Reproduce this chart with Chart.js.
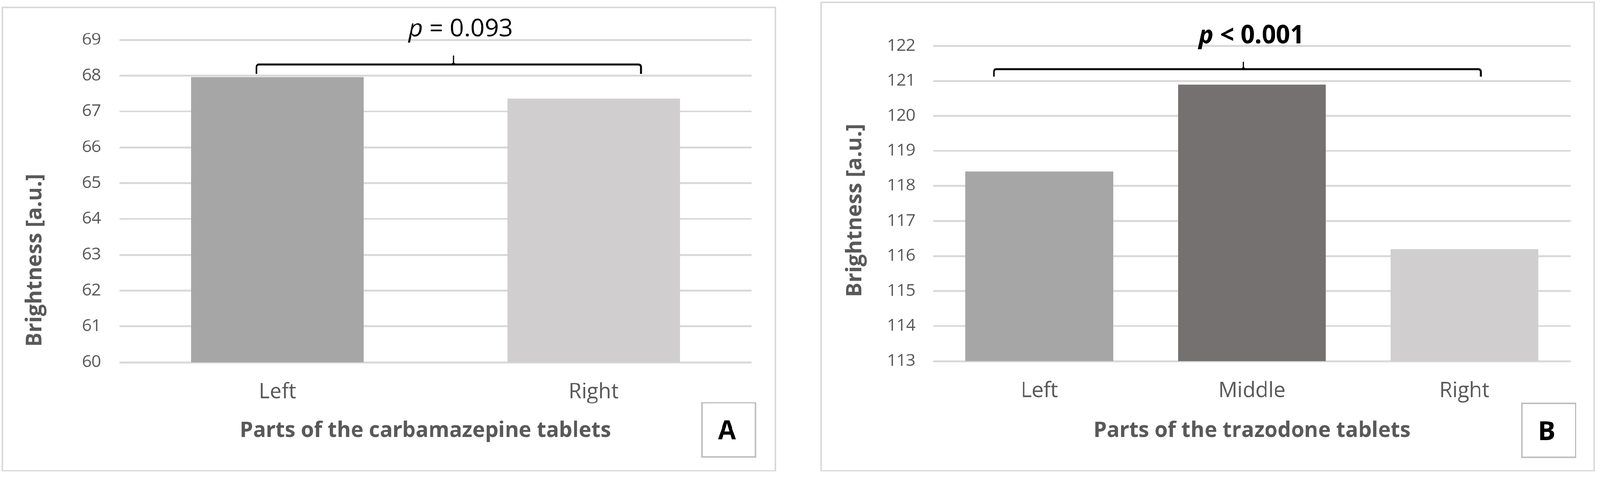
<!DOCTYPE html>
<html>
<head>
<meta charset="utf-8">
<script src="https://cdn.jsdelivr.net/npm/chart.js@4.4.1/dist/chart.umd.min.js"></script>
<style>
  html, body { margin: 0; padding: 0; background: #ffffff; overflow: hidden; }
  #stage { width: 4261px; height: 1269px; position: absolute; left: 0; top: 0; transform-origin: 0 0; }
  canvas { position: absolute; top: 0; }
  #cA { left: 0px; }
  #cB { left: 2130px; }
</style>
</head>
<body>
<div id="stage">
<canvas id="cA" width="2130" height="1269"></canvas>
<canvas id="cB" width="2131" height="1269"></canvas>
</div>
<script>
// ---------------- data ----------------
const categoriesA = ['Left', 'Right'];
const valuesA = [67.96, 67.36];
const colorsA = ['#A6A6A6', '#D0CECE'];
const yMinA = 60, yMaxA = 69, yStepA = 1;

const categoriesB = ['Left', 'Middle', 'Right'];
const valuesB = [118.41, 120.89, 116.19];
const colorsB = ['#A6A6A6', '#767171', '#D0CECE'];
const yMinB = 113, yMaxB = 122, yStepB = 1;

const yTitle = 'Brightness [a.u.]';
const xTitleA = 'Parts of the carbamazepine tablets';
const xTitleB = 'Parts of the trazodone tablets';
const pTextA = ['p', ' = 0.093'];
const pTextB = ['p', ' < 0.001'];
const panelLetterA = 'A';
const panelLetterB = 'B';
// bracket spans in (category index, value) space
const bracketA = { x0: -0.0665, x1: 1.1496, xc: 0.557, yLine: 68.308, yEnd: 68.045, yTip: 68.56 };
const bracketB = { x0: -0.2138, x1: 2.0777, xc: 0.9594, yLine: 121.335, yEnd: 121.12, yTip: 121.55 };

const FONT = "'Open Sans', 'DejaVu Sans', sans-serif";
const GREY = '#595959';

// fit the 4261x1269 design into the real viewport
(function fitStage() {
  const W = 4261, H = 1269;
  const s = Math.min(window.innerWidth / W, window.innerHeight / H) || 1;
  if (Math.abs(s - 1) > 0.002) {
    document.getElementById('stage').style.transform = 'scale(' + s + ')';
  }
})();

function drawBracket(ctx, chart, b) {
  const xs = chart.scales.x, ys = chart.scales.y;
  const xL = xs.getPixelForValue(b.x0), xR = xs.getPixelForValue(b.x1), xC = xs.getPixelForValue(b.xc);
  const y = ys.getPixelForValue(b.yLine), yE = ys.getPixelForValue(b.yEnd), yT = ys.getPixelForValue(b.yTip);
  const r = 7;
  ctx.save();
  ctx.strokeStyle = '#000000';
  ctx.lineCap = 'butt';
  ctx.lineJoin = 'round';
  ctx.lineWidth = 5;
  ctx.beginPath();
  ctx.moveTo(xL, yE);
  ctx.lineTo(xL, y + r);
  ctx.quadraticCurveTo(xL, y, xL + r, y);
  ctx.lineTo(xR - r, y);
  ctx.quadraticCurveTo(xR, y, xR, y + r);
  ctx.lineTo(xR, yE);
  ctx.stroke();
  ctx.lineWidth = 3;
  ctx.beginPath();
  ctx.moveTo(xC - 8, y);
  ctx.quadraticCurveTo(xC, y, xC, y - 8);
  ctx.lineTo(xC, yT);
  ctx.moveTo(xC + 8, y);
  ctx.quadraticCurveTo(xC, y, xC, y - 8);
  ctx.stroke();
  ctx.restore();
}

function drawPText(ctx, parts, cx, baseline, bold) {
  ctx.save();
  const w = bold ? 'bold ' : '';
  const f1 = 'italic ' + w + '66px ' + FONT;
  const f2 = w + '66px ' + FONT;
  ctx.font = f1; const w1 = ctx.measureText(parts[0]).width;
  ctx.font = f2; const w2 = ctx.measureText(parts[1]).width;
  let x = cx - (w1 + w2) / 2;
  ctx.fillStyle = '#000000';
  ctx.textAlign = 'left';
  ctx.textBaseline = 'alphabetic';
  ctx.font = f1; ctx.fillText(parts[0], x, baseline);
  ctx.font = f2; ctx.fillText(parts[1], x + w1, baseline);
  ctx.restore();
}

function makeDecor(o) {
  return {
    id: 'decor' + o.letter,
    afterDraw(chart) {
      const ctx = chart.ctx;
      ctx.save();
      ctx.strokeStyle = '#D9D9D9';
      ctx.lineWidth = 4;
      ctx.strokeRect(o.border[0], o.border[1], o.border[2], o.border[3]);
      ctx.fillStyle = GREY;
      ctx.font = 'bold 57px ' + FONT;
      ctx.textAlign = 'center';
      ctx.textBaseline = 'alphabetic';
      ctx.save();
      ctx.translate(o.yTitle[0], o.yTitle[1]);
      ctx.rotate(-Math.PI / 2);
      ctx.fillText(yTitle, 0, 0);
      ctx.restore();
      ctx.font = 'bold 56.5px ' + FONT;
      ctx.fillText(o.xTitle, o.xTitlePos[0], o.xTitlePos[1]);
      ctx.strokeStyle = '#BFBFBF';
      ctx.lineWidth = 4;
      ctx.strokeRect(o.box[0], o.box[1], o.box[2], o.box[3]);
      ctx.fillStyle = '#000000';
      ctx.font = 'bold 69px ' + FONT;
      ctx.fillText(o.letter, o.letterPos[0], o.letterPos[1]);
      ctx.restore();
      drawBracket(ctx, chart, o.bracket);
      drawPText(ctx, o.pText, o.pPos[0], o.pPos[1], o.pBold);
    }
  };
}

function makeChart(id, cats, vals, cols, yMin, yMax, yStep, o) {
  return new Chart(document.getElementById(id), {
    type: 'bar',
    data: {
      labels: cats,
      datasets: [{
        data: vals,
        backgroundColor: cols,
        borderWidth: 0,
        categoryPercentage: 1.0,
        barPercentage: o.barPct
      }]
    },
    options: {
      responsive: false,
      animation: false,
      devicePixelRatio: 1,
      layout: { padding: o.padding },
      plugins: { legend: { display: false }, tooltip: { enabled: false }, title: { display: false } },
      scales: {
        x: {
          grid: { display: false, drawTicks: false },
          border: { display: false },
          ticks: { color: GREY, font: { family: FONT, size: 56 }, padding: 46, maxRotation: 0, autoSkip: false },
          afterFit: s => { s.height = 150; }
        },
        y: {
          min: yMin, max: yMax,
          grid: { color: '#D9D9D9', lineWidth: 5, drawTicks: false },
          border: { display: false },
          ticks: { stepSize: yStep, color: GREY, font: { family: FONT, size: 44 }, padding: o.tickPad },
          afterFit: s => { s.width = o.yWidth; }
        }
      }
    },
    plugins: [makeDecor(o)]
  });
}

function build() {
  makeChart('cA', categoriesA, valuesA, colorsA, yMinA, yMaxA, yStepA, {
    letter: panelLetterA,
    barPct: 0.546,
    padding: { left: 0, top: 106, right: 128, bottom: 155 },
    yWidth: 318, tickPad: 49,
    border: [6, 20, 2059, 1233],
    yTitle: [110, 693],
    xTitle: xTitleA, xTitlePos: [1133, 1163],
    box: [1869, 1072, 143, 144], letterPos: [1936, 1169],
    bracket: bracketA,
    pText: pTextA, pPos: [1227, 97], pBold: false
  });
  makeChart('cB', categoriesB, valuesB, colorsB, yMinB, yMaxB, yStepB, {
    letter: panelLetterB,
    barPct: 0.696,
    padding: { left: 0, top: 122, right: 78, bottom: 158 },
    yWidth: 355, tickPad: 47,
    border: [57, 6, 2058, 1247],
    yTitle: [164, 560],
    xTitle: xTitleB, xTitlePos: [1204, 1163],
    box: [1923, 1074, 143, 143], letterPos: [1989, 1171],
    bracket: bracketB,
    pText: pTextB, pPos: [1203, 115], pBold: true
  });
}

if (document.fonts && document.fonts.load) {
  Promise.all([
    document.fonts.load("44px 'Open Sans'"),
    document.fonts.load("bold 44px 'Open Sans'"),
    document.fonts.load("italic 44px 'Open Sans'"),
    document.fonts.load("italic bold 44px 'Open Sans'")
  ]).then(build, build);
} else {
  build();
}
</script>
</body>
</html>
